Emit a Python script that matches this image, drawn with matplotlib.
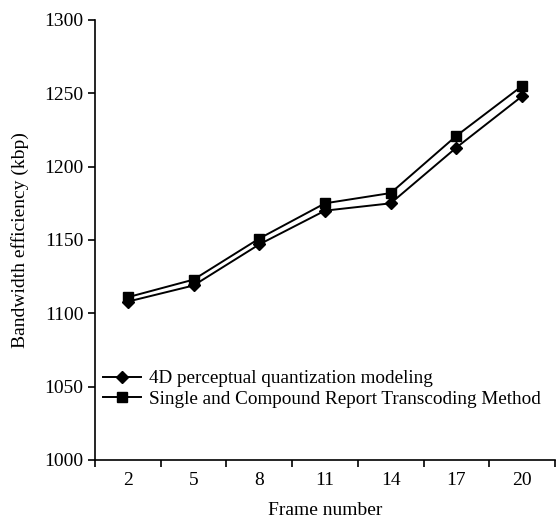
import numpy as np
import matplotlib
matplotlib.use('Agg')
import matplotlib.pyplot as plt

plt.rcParams['font.family'] = ['Liberation Serif', 'DejaVu Serif']

frames = ['2', '5', '8', '11', '14', '17', '20']
perceptual_4d = [1108, 1119, 1147, 1170, 1175, 1213, 1248]
single_compound = [1111, 1123, 1151, 1175, 1182, 1221, 1255]

fig = plt.figure(figsize=(5.56, 5.19), dpi=100)
ax = fig.add_axes([0.171, 0.1137, 0.827, 0.8478])

x = np.arange(len(frames))
ax.plot(x, perceptual_4d, color='black', lw=1.4, marker='D', markersize=6,
        label='4D perceptual quantization modeling')
ax.plot(x, single_compound, color='black', lw=1.4, marker='s', markersize=7,
        label='Single and Compound Report Transcoding Method')

ax.set_xlim(-0.5, len(frames) - 0.5)
ax.set_ylim(1000, 1300)
ax.set_yticks(range(1000, 1301, 50))

# ticks sit between categories, labels in the middle
ax.set_xticks(np.arange(-0.5, len(frames)), labels=[''] * (len(frames) + 1))
ax.set_xticks(x, labels=frames, minor=True)
ax.tick_params(axis='x', which='minor', length=0, pad=9)
ax.tick_params(axis='both', which='major', direction='out', length=5, width=1.2, labelsize=14)
ax.tick_params(axis='x', which='minor', labelsize=14)

for side in ['top', 'right']:
    ax.spines[side].set_visible(False)
for side in ['left', 'bottom']:
    ax.spines[side].set_linewidth(1.2)

ax.set_xlabel('Frame number', fontsize=14, labelpad=9)
ax.set_ylabel('Bandwidth efficiency (kbp)', fontsize=14, labelpad=11)

ax.legend(loc='center left', bbox_to_anchor=(-0.021, 0.162), frameon=False,
          fontsize=13.8, handlelength=2.0, handletextpad=0.4, labelspacing=0.15)

fig.savefig('out.png', dpi=100)
